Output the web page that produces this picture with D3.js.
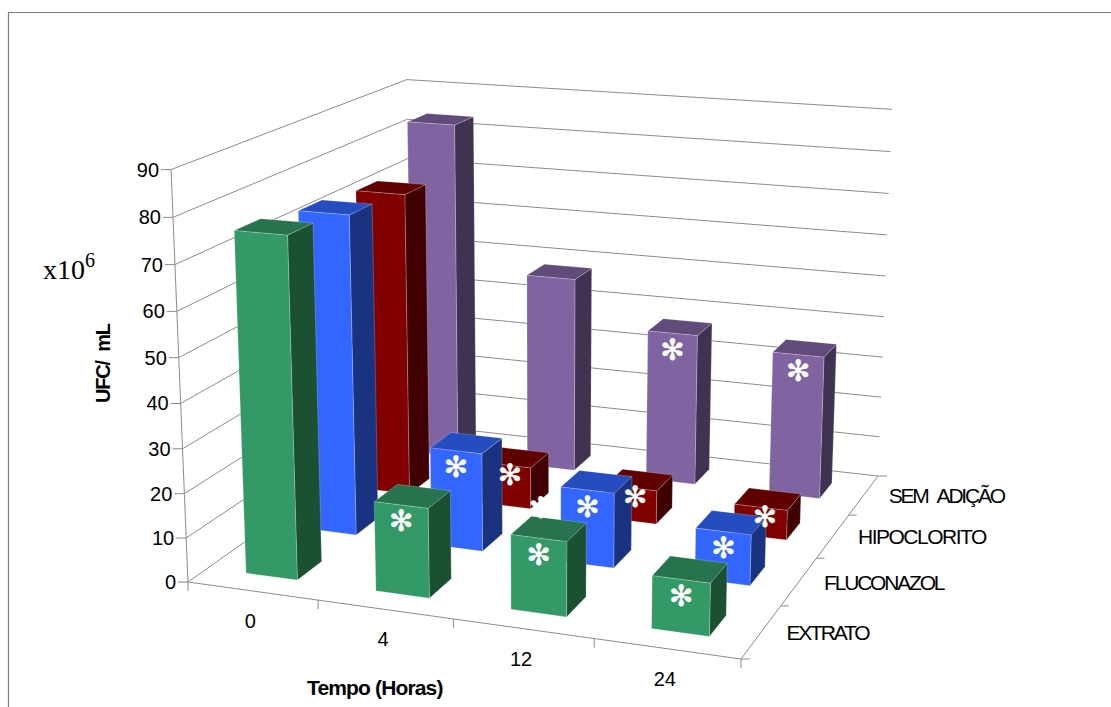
<!DOCTYPE html>
<html><head><meta charset="utf-8">
<script src="https://cdn.jsdelivr.net/npm/d3@7"></script>
<style>html,body{margin:0;padding:0;background:#fff}svg{display:block}</style>
</head><body><svg id="c" width="1111" height="707"></svg>
<script>
// ---- data ----
const times = ["0","4","12","24"];
const seriesNames = ["EXTRATO","FLUCONAZOL","HIPOCLORITO","SEM ADIÇÃO"];
const extrato    = [76, 20, 16.5, 11.5];
const fluconazol = [74, 22.7, 17.2, 11.5];
const hipoclorito= [72.5, 10, 8, 7];
const semAdicao  = [83.5, 48, 37, 34.7];
const significant = [
  [false,true,true,true],
  [false,true,true,true],
  [false,true,true,true],
  [false,false,true,true]
];
const yTicks = [0,10,20,30,40,50,60,70,80,90];
const faceColors = [
  {front:"#339966",side:"#1c5032",top:"#26734d"},
  {front:"#3366ff",side:"#1a3380",top:"#264dbf"},
  {front:"#800000",side:"#400000",top:"#600000"},
  {front:"#8064a2",side:"#403251",top:"#604b7a"}
];
const values = [extrato,fluconazol,hipoclorito,semAdicao];

// ---- projection: floor corners + vertical vanishing point ----
const FL=[188,582],FR=[741,659],BR=[878,476],BL=[412,424];
const TOP={FL:[170,170],BR:[892,109]};
const VP=[544,9233];
const dx1=FR[0]-BR[0],dx2=BL[0]-BR[0],sx=FL[0]-FR[0]+BR[0]-BL[0];
const dy1=FR[1]-BR[1],dy2=BL[1]-BR[1],sy=FL[1]-FR[1]+BR[1]-BL[1];
const den=dx1*dy2-dx2*dy1;
const g=(sx*dy2-dx2*sy)/den,h=(dx1*sy-sx*dy1)/den;
const a=FR[0]-FL[0]+g*FR[0],b=BL[0]-FL[0]+h*BL[0],c=FL[0];
const d=FR[1]-FL[1]+g*FR[1],e=BL[1]-FL[1]+h*BL[1],f=FL[1];
const sFit=(Z,bot,top)=>Z*(top[1]-bot[1])/(VP[1]-top[1]);
const s=(sFit(1,FL,TOP.FL)+sFit(1+g+h,BR,TOP.BR))/2;
function P(u,v,w){
  const X=a*u+b*v+c+w*s*VP[0],Y=d*u+e*v+f+w*s*VP[1],Z=g*u+h*v+1+w*s;
  return [X/Z,Y/Z];
}
// ---- scales ----
const uScale=d3.scaleBand().domain(times).range([0,1]).paddingInner(0.6).paddingOuter(0.3);
const vScale=d3.scaleBand().domain(seriesNames).range([0,1]).paddingInner(0.6).paddingOuter(0.3);
const wScale=d3.scaleLinear().domain([0,90]).range([0,1]);

const svg=d3.select("#c");
const line=(p,q,col="#8c8c8c",wd=1)=>svg.append("line").attr("x1",p[0]).attr("y1",p[1]).attr("x2",q[0]).attr("y2",q[1]).attr("stroke",col).attr("stroke-width",wd);
const SANS="'Liberation Sans',Arial,sans-serif";

// frame
svg.append("path").attr("d","M8.5,707V12.5H1111").attr("fill","none").attr("stroke","#808080").attr("stroke-width",1.2);

// walls & grid
yTicks.forEach(t=>{
  const w=wScale(t);
  const fl=P(0,0,w),bl=P(0,1,w),br=P(1,1,w);
  line(fl,bl);line(bl,br);
  line([fl[0]-10,fl[1]],fl);
  svg.append("text").attr("x",fl[0]-12).attr("y",fl[1]).attr("dy","0.35em").attr("text-anchor","end")
    .attr("font-family",SANS).attr("font-size",20).attr("fill","#000").text(t);
});
line(P(0,0,0),P(0,0,1));
// floor edges
line(P(0,0,0),P(1,0,0));
line(P(1,0,0),P(1,1,0));
{const p=P(0,0,0);line(p,[p[0],p[1]+9]);}
{const p=P(1,0,0);line(p,[p[0],p[1]+9]);line(p,[p[0]+9,p[1]]);}
{const p=P(1,1,0);line(p,[p[0]+9,p[1]]);}
times.forEach((t,i)=>{
  const step=uScale.step(),uMid=uScale(t)+uScale.bandwidth()/2;
  if(i<times.length-1){const p=P(uMid+step/2,0,0);line(p,[p[0],p[1]+9]);}
  const q=P(uMid,0,0);
  svg.append("text").attr("x",q[0]-2).attr("y",q[1]+30).attr("dy","0.35em").attr("text-anchor","middle")
    .attr("font-family",SANS).attr("font-size",20).attr("fill","#000").text(t);
});
seriesNames.forEach((n,i)=>{
  const step=vScale.step(),vMid=vScale(n)+vScale.bandwidth()/2;
  if(i<seriesNames.length-1){const p=P(1,vMid+step/2,0);line(p,[p[0]+8,p[1]]);}
  const q=P(1,vMid,0);
  svg.append("text").attr("x",q[0]+25).attr("y",q[1]+1).attr("dy","0.35em")
    .attr("font-family",SANS).attr("font-size",21).attr("letter-spacing",n==="HIPOCLORITO"?-1.5:-2.2).attr("word-spacing",6.5).attr("fill","#000").text(n);
});

// bars, back to front, left to right
const poly=(pts,fill)=>svg.append("polygon").attr("points",pts.map(p=>p.join(",")).join(" "))
  .attr("fill",fill).attr("stroke","#ffffff").attr("stroke-opacity",0.3).attr("stroke-width",0.7).attr("stroke-linejoin","round");
const star=(p)=>svg.append("text").attr("x",p[0]).attr("y",p[1]).attr("dy","0.36em").attr("text-anchor","middle")
  .attr("font-family","'DejaVu Sans',sans-serif").attr("font-size",29).attr("fill","#fff")
  .attr("stroke","#fff").attr("stroke-width",0.5).text("\u273B");
[3,2,1,0].forEach(si=>{
  const v0=vScale(seriesNames[si]),v1=v0+vScale.bandwidth();
  times.forEach((t,ti)=>{
    const u0=uScale(t),u1=u0+uScale.bandwidth(),w=wScale(values[si][ti]),col=faceColors[si];
    poly([P(u1,v0,0),P(u1,v1,0),P(u1,v1,w),P(u1,v0,w)],col.side);
    poly([P(u0,v0,w),P(u1,v0,w),P(u1,v1,w),P(u0,v1,w)],col.top);
    poly([P(u0,v0,0),P(u1,v0,0),P(u1,v0,w),P(u0,v0,w)],col.front);
  });
});
// significance marks sit on top of every bar
[3,2,1,0].forEach(si=>{
  const v0=vScale(seriesNames[si]);
  const isRed=si===2;
  times.forEach((t,ti)=>{
    if(significant[si][ti]){
      const u0=uScale(t),u1=u0+uScale.bandwidth(),w=wScale(values[si][ti]);
      const p=P((u0+u1)/2,v0,w);
      star(isRed?[p[0]+4,p[1]+9]:[p[0],p[1]+16]);
    }
  });
  if(isRed){ // stray mark over the base of the 4 h bar
    const p=P(uScale("4")+uScale.bandwidth(),v0,0);
    star([p[0]+10,p[1]-1]);
  }
});

// titles
svg.append("text").attr("x",43).attr("y",279).attr("font-family","'Liberation Serif',serif").attr("font-size",28).attr("fill","#000")
  .text("x10").append("tspan").attr("dy",-12).attr("font-size",20).text("6");
svg.append("text").attr("transform","translate(110,403) rotate(-90)").attr("font-family",SANS).attr("font-weight","bold")
  .attr("font-size",20).attr("letter-spacing",-1.2).attr("word-spacing",5).attr("fill","#000").text("UFC/ mL");
svg.append("text").attr("x",307).attr("y",695).attr("font-family",SANS).attr("font-weight","bold")
  .attr("font-size",21).attr("letter-spacing",-0.85).attr("fill","#000").text("Tempo (Horas)");
</script></body></html>
